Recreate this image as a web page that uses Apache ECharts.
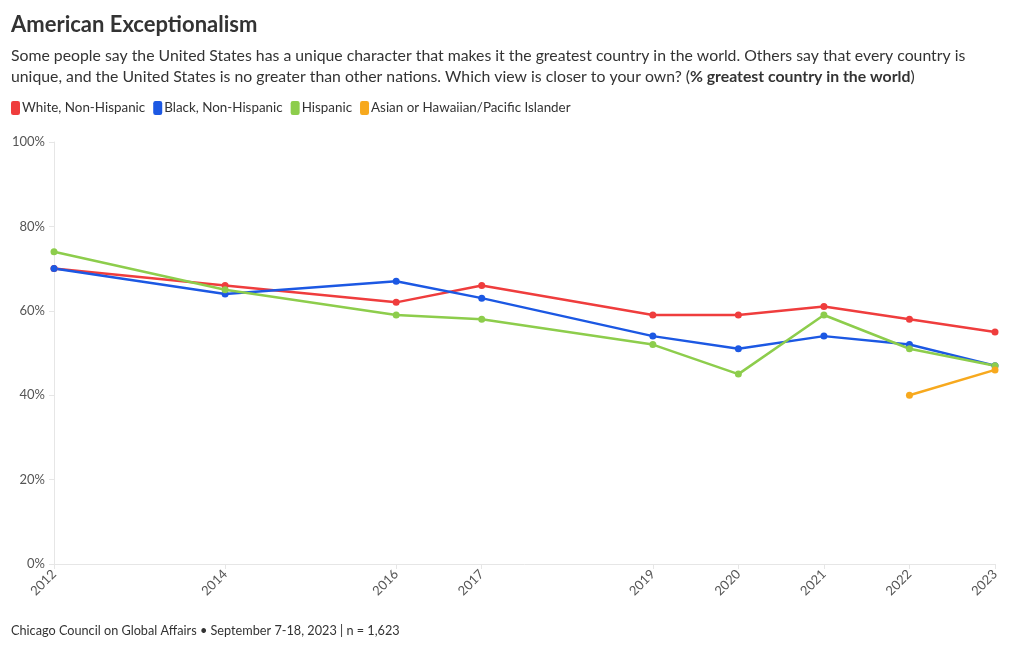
<!DOCTYPE html>
<html><head><meta charset="utf-8">
<script src="https://cdn.jsdelivr.net/npm/echarts@6/dist/echarts.min.js"></script>
<style>html,body{margin:0;padding:0;background:#fff}#c{width:1020px;height:650px}</style>
</head><body><div id="c"></div>
<script>
const years = [2012, 2014, 2016, 2017, 2019, 2020, 2021, 2022, 2023];
const white = [70, 66, 62, 66, 59, 59, 61, 58, 55];
const black = [70, 64, 67, 63, 54, 51, 54, 52, 47];
const hispanic = [74, 65, 59, 58, 52, 45, 59, 51, 47];
const asian = [null, null, null, null, null, null, null, 40, 46];
const yTicks = [0, 20, 40, 60, 80, 100];

const names = ['White, Non-Hispanic', 'Black, Non-Hispanic', 'Hispanic', 'Asian or Hawaiian/Pacific Islander'];
const colors = ['#ef3d3d', '#1c58e3', '#8dcd4c', '#f7a91e'];
const seriesVals = [white, black, hispanic, asian];
const FONT = 'Lato';

function pairs(vals) {
  const out = [];
  vals.forEach((v, i) => { if (v !== null) out.push([years[i], v]); });
  return out;
}

const chart = echarts.init(document.getElementById('c'), null, {renderer: 'canvas'});
chart.setOption({
  animation: false,
  textStyle: {fontFamily: FONT},
  color: colors,
  graphic: [
    {type: 'text', left: 11, top: 14, style: {text: 'American Exceptionalism', font: 'bold 22px ' + FONT, fill: '#333'}},
    {type: 'text', left: 11, top: 45, style: {
      text: 'Some people say the United States has a unique character that makes it the greatest country in the world. Others say that every country is\nunique, and the United States is no greater than other nations. Which view is closer to your own? ({b|% greatest country in the world})',
      font: '15.8px ' + FONT, fill: '#333', lineHeight: 21,
      rich: {b: {fontWeight: 'bold', fontSize: 15.8, fontFamily: FONT, fill: '#333', lineHeight: 21}}
    }},
    {type: 'text', left: 11, top: 624, style: {text: 'Chicago Council on Global Affairs \u2022 September 7-18, 2023 | n = 1,623', font: '12.7px ' + FONT, fill: '#333'}}
  ],
  legend: {
    left: 6, top: 96, itemWidth: 9, itemHeight: 14, itemGap: 8,
    icon: 'roundRect',
    textStyle: {fontSize: 13.4, color: '#333', fontFamily: FONT, padding: [0, 0, 0, -3]},
    data: names
  },
  grid: {left: 54, right: 25, top: 142, bottom: 86, containLabel: false},
  xAxis: {
    type: 'value', min: 2012, max: 2023, interval: 1,
    axisLine: {show: true, lineStyle: {color: '#e6e6e6'}},
    axisTick: {show: true, length: 5, lineStyle: {color: '#e6e6e6'}, customValues: years},
    axisLabel: {rotate: 45, fontSize: 13, color: '#555', margin: 8, customValues: years, formatter: v => String(v)},
    splitLine: {show: false}
  },
  yAxis: {
    type: 'value', min: 0, max: 100, interval: 20,
    axisLine: {show: true, lineStyle: {color: '#e6e6e6'}},
    axisTick: {show: true, length: 5, lineStyle: {color: '#e6e6e6'}},
    axisLabel: {fontSize: 13, color: '#555', margin: 9, formatter: v => v + '%', customValues: yTicks},
    splitLine: {show: false}
  },
  series: seriesVals.map((vals, i) => ({
    name: names[i], type: 'line', data: pairs(vals),
    symbol: 'circle', symbolSize: 7, showSymbol: true,
    lineStyle: {width: 2.5, color: colors[i]},
    itemStyle: {color: colors[i]}
  }))
});
</script></body></html>
